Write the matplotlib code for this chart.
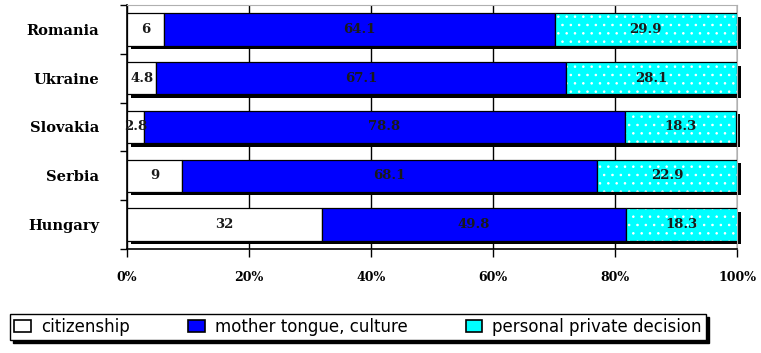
import matplotlib.pyplot as plt
import numpy as np

# shares of answers per country (percent)
countries = ["Romania", "Ukraine", "Slovakia", "Serbia", "Hungary"]
citizenship = [6, 4.8, 2.8, 9, 32]
mother_tongue = [64.1, 67.1, 78.8, 68.1, 49.8]
private_decision = [29.9, 28.1, 18.3, 22.9, 18.3]
series_names = ["citizenship", "mother tongue, culture", "personal private decision"]
x_ticks = [0, 20, 40, 60, 80, 100]
x_ticklabels = ["0%", "20%", "40%", "60%", "80%", "100%"]

serif = ["DejaVu Serif", "Liberation Serif"]
plt.rcParams["hatch.linewidth"] = 0.6

fig = plt.figure(figsize=(7.61, 3.53), dpi=100)
ax = fig.add_axes([127 / 761, 1 - 249 / 353, 610 / 761, 244 / 353])

y = np.arange(len(countries))[::-1]
h = 0.66
c1 = np.array(citizenship)
c2 = np.array(mother_tongue)
c3 = np.array(private_decision)
total = c1 + c2 + c3

# drop shadow behind every stacked bar
ax.barh(y - 0.07, total, left=0.6, height=h, color="black", zorder=2, clip_on=False)

ax.barh(y, c1, height=h, color="white", edgecolor="black", lw=0.9, zorder=3)
ax.barh(y, c2, left=c1, height=h, color="#0000ff", edgecolor="black", lw=0.9, zorder=3)
# dotted cyan segment: white dots first, then the black outline
ax.barh(y, c3, left=c1 + c2, height=h, color="#00ffff", edgecolor="white",
        hatch="..", lw=0, zorder=3)
ax.barh(y, c3, left=c1 + c2, height=h, fill=False, edgecolor="black", lw=0.9, zorder=4)

for i in range(len(countries)):
    lefts = [0, c1[i], c1[i] + c2[i]]
    for left, val in zip(lefts, [c1[i], c2[i], c3[i]]):
        ax.text(left + val / 2, y[i], f"{val:g}", ha="center", va="center",
                fontsize=9.5, fontweight="bold", family=serif, color="#1a1a1a", zorder=5)

ax.set_xlim(0, 100)
ax.set_ylim(-0.5, 4.5)
ax.set_xticks(x_ticks)
ax.set_xticklabels(x_ticklabels, family=serif, fontweight="bold", fontsize=9)
ax.set_yticks(y)
ax.set_yticklabels(countries, family=serif, fontweight="bold", fontsize=10.5)
ax.set_yticks(np.arange(-0.5, 5, 1), minor=True)
ax.tick_params(axis="y", which="major", length=0, pad=20)
ax.tick_params(axis="y", which="minor", length=5, direction="out", width=1)
ax.tick_params(axis="x", length=6, direction="out", width=1, pad=10)

ax.grid(axis="x", color="black", lw=1, zorder=1)
ax.set_axisbelow(True)
for side in ["top", "right"]:
    ax.spines[side].set_color("#b0b0b0")
for side in ["left", "bottom"]:
    ax.spines[side].set_linewidth(1.2)

handles = [
    plt.Rectangle((0, 0), 1, 1, facecolor="white", edgecolor="black", lw=1.2),
    plt.Rectangle((0, 0), 1, 1, facecolor="#0000ff", edgecolor="black", lw=1.2),
    plt.Rectangle((0, 0), 1, 1, facecolor="#00ffff", edgecolor="black", lw=1.2),
]
leg = fig.legend(handles, series_names, loc="center", ncol=3,
                 bbox_to_anchor=(358 / 761, 1 - 327 / 353),
                 prop={"family": "DejaVu Sans", "size": 12},
                 frameon=True, fancybox=False, shadow={"color": "black", "alpha": 1},
                 handlelength=1.0, handleheight=0.7, handletextpad=0.6,
                 columnspacing=3.5, borderpad=0.25, borderaxespad=0)
leg.get_frame().set_edgecolor("black")
leg.get_frame().set_linewidth(1)

fig.savefig("out.png", dpi=100)
